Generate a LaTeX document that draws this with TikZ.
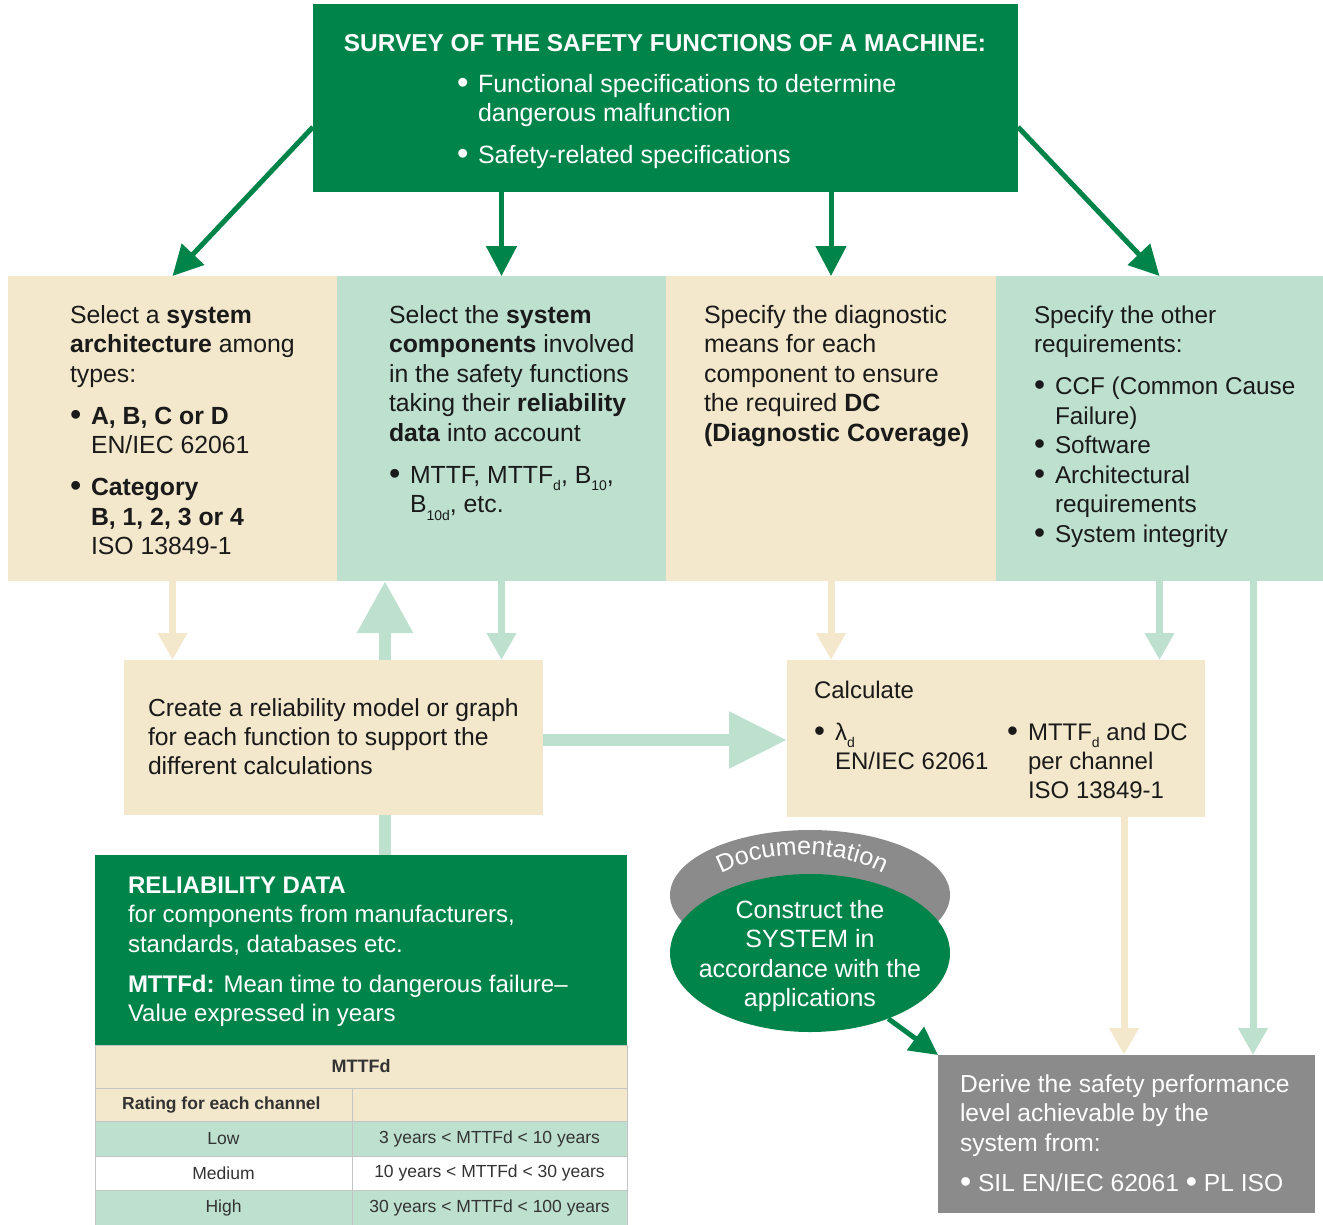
\documentclass[tikz,border=0pt]{standalone}
\usepackage{fontspec}
\setmainfont{Liberation Sans}
\usetikzlibrary{arrows.meta,shapes.geometric,decorations.text}

\definecolor{sgreen}{HTML}{00844A}
\definecolor{sbeige}{HTML}{F4E8CC}
\definecolor{smint}{HTML}{BEE0CF}
\definecolor{sgray}{HTML}{8B8B8B}
\definecolor{sink}{HTML}{1A1A1A}
\definecolor{sgrid}{HTML}{C4C4C4}
\definecolor{stab}{HTML}{333333}

% bullet with hanging indent, and a low small subscript
\newcommand\bdot{\raisebox{-0.06em}{\scalebox{1.3}{•}}}
\newcommand\bul{\makebox[21pt][l]{\bdot}}
\newcommand\hang{\hspace*{21pt}}
\newcommand\lsub[1]{\raisebox{-0.32em}{\fontsize{14}{14}\selectfont #1}}
\newcommand\lines[1]{\begin{tabular}[t]{@{}l@{}}#1\end{tabular}}
\newcommand\clines[1]{\begin{tabular}[t]{@{}c@{}}#1\end{tabular}}

\begin{document}
\begin{tikzpicture}[x=1pt,y=-1pt,
  panel/.style={anchor=north west,inner sep=0pt,outer sep=0pt,draw=none},
  body/.style={anchor=base west,inner sep=0pt,outer sep=0pt,text=sink,
    font=\fontsize{24}{29.5}\selectfont},
  inv/.style={body,text=white},
  cell/.style={anchor=north west,inner sep=0pt,outer sep=0pt,draw=sgrid,line width=0.8pt,
    text=stab,font=\fontsize{17.5}{20}\selectfont},
  garrow/.style={draw=sgreen,line width=5pt,-{Triangle[width=30pt,length=30pt]}},
  barrow/.style={draw=sbeige,line width=7pt,-{Triangle[width=28pt,length=27pt]}},
  marrow/.style={draw=smint,line width=7pt,-{Triangle[width=28pt,length=27pt]}},
  bigarrow/.style={draw=smint,line width=12pt,-{Triangle[width=53pt,length=52pt]}},
  mlink/.style={draw=smint,line width=12pt},
]
\useasboundingbox (0,0) rectangle (1323,1224);

% survey box
\node[panel,fill=sgreen,minimum width=705pt,minimum height=188pt] (survey) at (313,4) {};
\node[anchor=base,inner sep=0pt,text=white,font=\fontsize{24.4}{29}\selectfont\bfseries]
  (surveyhead) at (665,51) {SURVEY OF THE SAFETY FUNCTIONS OF A MACHINE:};
\node[inv,font=\fontsize{25}{29}\selectfont] (surveylist) at (457,92)
  {\lines{\bul Functional specifications to determine\\ \hang dangerous malfunction\\[13pt]
   \bul Safety-related specifications}};

% four columns
\node[panel,fill=sbeige,minimum width=329pt,minimum height=305pt] (colA) at (8,276) {};
\node[panel,fill=smint,minimum width=329pt,minimum height=305pt] (colB) at (337,276) {};
\node[panel,fill=sbeige,minimum width=330pt,minimum height=305pt] (colC) at (666,276) {};
\node[panel,fill=smint,minimum width=327pt,minimum height=305pt] (colD) at (996,276) {};

\node[body,font=\fontsize{24.8}{29.5}\selectfont] (colAtext) at (70,323)
  {\lines{Select a \textbf{system}\\ \textbf{architecture} among\\ types:\\[12.5pt]
   \bul\textbf{A, B, C or D}\\ \hang EN/IEC 62061\\[12.5pt]
   \bul\textbf{Category}\\ \hang\textbf{B, 1, 2, 3 or 4}\\ \hang ISO 13849-1}};
\node[body,font=\fontsize{24.8}{29.5}\selectfont] (colBtext) at (389,323)
  {\lines{Select the \textbf{system}\\ \textbf{components} involved\\ in the safety functions\\
   taking their \textbf{reliability}\\ \textbf{data} into account\\[12.5pt]
   \bul MTTF, MTTF\lsub{d}, B\lsub{10},\\ \hang B\lsub{10d}, etc.}};
\node[body,font=\fontsize{25}{29.5}\selectfont] (colCtext) at (704,323)
  {\lines{Specify the diagnostic\\ means for each\\ component to ensure\\
   the required \textbf{DC}\\ \textbf{(Diagnostic Coverage)}}};
\node[body,font=\fontsize{24.3}{29.5}\selectfont] (colDtext) at (1034,323)
  {\lines{Specify the other\\ requirements:\\[12.5pt]
   \bul CCF (Common Cause\\ \hang Failure)\\ \bul Software\\ \bul Architectural\\
   \hang requirements\\ \bul System integrity}};

% model and calculation boxes
\node[panel,fill=sbeige,minimum width=419pt,minimum height=155pt] (create) at (124,660) {};
\node[body,font=\fontsize{24.7}{29}\selectfont] (createtext) at (148,716)
  {\lines{Create a reliability model or graph\\ for each function to support the\\ different calculations}};

\node[panel,fill=sbeige,minimum width=418pt,minimum height=157pt] (calc) at (787,660) {};
\node[body,font=\fontsize{24}{29}\selectfont] (calctext) at (814,698)
  {\lines{Calculate\\[13pt] \bul λ\lsub{d}\\ \hang EN/IEC 62061}};
\node[body,font=\fontsize{24}{29}\selectfont] (calcright) at (1007,740)
  {\lines{\bul MTTF\lsub{d} and DC\\ \hang per channel\\ \hang ISO 13849-1}};

% reliability data
\node[panel,fill=sgreen,minimum width=532pt,minimum height=190pt] (reldata) at (95,855) {};
\node[inv] (reltext) at (128,893)
  {\lines{\textbf{RELIABILITY DATA}\\ for components from manufacturers,\\ standards, databases etc.\\[10.5pt]
   \textbf{MTTFd:} Mean time to dangerous failure–\\ Value expressed in years}};

% MTTFd table
\node[cell,fill=sbeige,minimum width=532pt,minimum height=43pt,font=\fontsize{18}{20}\selectfont\bfseries]
  (thead) at (95,1045) {MTTFd};
\node[cell,fill=sbeige,minimum width=257pt,minimum height=33pt] (trate) at (95,1088) {};
\node[cell,fill=sbeige,minimum width=275pt,minimum height=33pt] (tblank) at (352,1088) {};
\node[anchor=west,inner sep=0pt,text=stab,font=\fontsize{17.5}{20}\selectfont\bfseries]
  (tratetext) at (122,1104.5) {Rating for each channel};
\node[cell,fill=smint,minimum width=257pt,minimum height=35pt] (tlow) at (95,1121) {Low};
\node[cell,fill=smint,minimum width=275pt,minimum height=35pt] (tlowv) at (352,1121) {3 years < MTTFd < 10 years};
\node[cell,fill=white,minimum width=257pt,minimum height=34pt] (tmed) at (95,1156) {Medium};
\node[cell,fill=white,minimum width=275pt,minimum height=34pt] (tmedv) at (352,1156) {10 years < MTTFd < 30 years};
\node[cell,fill=smint,minimum width=257pt,minimum height=35pt] (thigh) at (95,1190) {High};
\node[cell,fill=smint,minimum width=275pt,minimum height=35pt] (thighv) at (352,1190) {30 years < MTTFd < 100 years};

% documentation and construction
\node[ellipse,fill=sgray,inner sep=0pt,minimum width=280pt,minimum height=130pt] (doc) at (810,895) {};
\node[ellipse,fill=sgreen,inner sep=0pt,minimum width=280pt,minimum height=158pt] (build) at (810,953) {};
\path[decorate,decoration={text along path,text align=center,text color=white,
    text={|\fontsize{25}{25}\selectfont|Documentation}}]
  (704,884) .. controls (757,845) and (847,845) .. (900,884);
\node[anchor=base,inner sep=0pt,text=white,font=\fontsize{25}{29.5}\selectfont] (buildtext) at (810,918)
  {\clines{Construct the\\ SYSTEM in\\ accordance with the\\ applications}};

% result box
\node[panel,fill=sgray,minimum width=377pt,minimum height=158pt] (derive) at (938,1055) {};
\node[inv,font=\fontsize{24.6}{29.5}\selectfont] (derivetext) at (960,1092)
  {\lines{Derive the safety performance\\ level achievable by the\\ system from:\\[11pt]
   \bdot\ SIL EN/IEC 62061 \bdot\ PL ISO}};

% connectors from the survey
\draw[garrow] ([yshift=-29pt]survey.west) -- (colA.north);
\draw[garrow] ([yshift=-29pt]survey.east) -- (colD.north);
\draw[garrow] (survey.south -| colB.north) -- (colB.north);
\draw[garrow] (survey.south -| colC.north) -- (colC.north);

% connectors between the columns and the lower boxes
\draw[barrow] (colA.south) -- (colA.south |- create.north);
\draw[marrow] (colB.south) -- (colB.south |- create.north);
\draw[bigarrow] ([xshift=51.5pt]create.north) -- ([xshift=51.5pt]create.north |- colB.south);
\draw[mlink] ([xshift=51.5pt]create.south) -- ([xshift=51.5pt]create.south |- reldata.north);
\draw[barrow] (colC.south) -- (colC.south |- calc.north);
\draw[marrow] (colD.south) -- (colD.south |- calc.north);
\draw[marrow] ([xshift=93.5pt]colD.south) -- ([xshift=93.5pt]colD.south |- derive.north);
\draw[barrow] ([xshift=128pt]calc.south) -- ([xshift=128pt]calc.south |- derive.north);
\draw[bigarrow,-{Triangle[width=54pt,length=58pt]}]
  ([yshift=-2.5pt]create.east) -- ([yshift=-2.5pt]create.east -| calc.west);
\draw[garrow,-{Triangle[width=28pt,length=28pt]}] (build.-40) -- (derive.north west);
\end{tikzpicture}
\end{document}
